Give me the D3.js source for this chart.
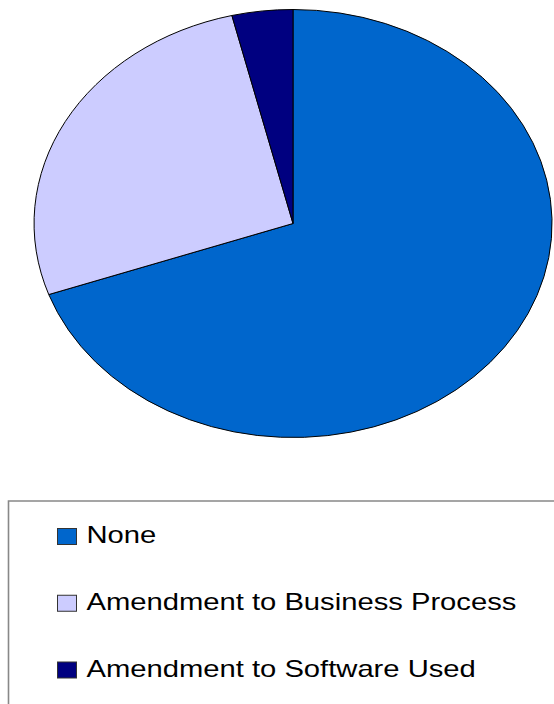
<!DOCTYPE html>
<html>
<head>
<meta charset="utf-8">
<script src="https://cdn.jsdelivr.net/npm/d3@7"></script>
<style>
  html, body { margin: 0; padding: 0; background: #fff; }
  svg { display: block; }
  text { font-family: "Liberation Sans", Arial, sans-serif; }
</style>
</head>
<body>
<svg id="chart" width="554" height="704"></svg>
<script>
// Responses by type of change
const categories = ["None", "Amendment to Business Process", "Amendment to Software Used"];
const counts = [55, 21, 3];
const colors = ["#0066CC", "#CCCCFF", "#000080"];

const svg = d3.select("#chart");

// Elliptical pie: unit-radius arcs stretched to the ellipse
const cx = 293, cy = 223.5, rx = 259, ry = 214;
const pie = d3.pie().sort(null).value(d => d.value).startAngle(0).endAngle(2 * Math.PI);
const arc = d3.arc().innerRadius(0).outerRadius(1);
const data = categories.map((c, i) => ({ name: c, value: counts[i], color: colors[i] }));

svg.append("g")
  .attr("transform", `translate(${cx},${cy}) scale(${rx},${ry})`)
  .selectAll("path")
  .data(pie(data))
  .join("path")
  .attr("d", arc)
  .attr("fill", d => d.data.color)
  .attr("stroke", "#000")
  .attr("stroke-width", 1)
  .attr("vector-effect", "non-scaling-stroke");

// Legend frame (open on the right and bottom)
const legend = svg.append("g");
legend.append("path")
  .attr("d", "M8.5,704 V501 H554")
  .attr("fill", "none")
  .attr("stroke", "#888")
  .attr("stroke-width", 1.6);

const rowY = d3.scalePoint().domain(categories).range([543, 676.5]);
const rows = legend.selectAll("g.row")
  .data(data)
  .join("g")
  .attr("class", "row")
  .attr("transform", d => `translate(0,${rowY(d.name)})`);

rows.append("rect")
  .attr("x", 57.5).attr("y", -14.5)
  .attr("width", 19).attr("height", 16)
  .attr("fill", d => d.color)
  .attr("stroke", "#333")
  .attr("stroke-width", 1);

// Legend labels are drawn in a horizontally widened face
rows.append("text")
  .attr("transform", "translate(86.5,0) scale(1.27,1)")
  .attr("font-size", 23)
  .attr("fill", "#000")
  .text(d => d.name);
</script>
</body>
</html>
